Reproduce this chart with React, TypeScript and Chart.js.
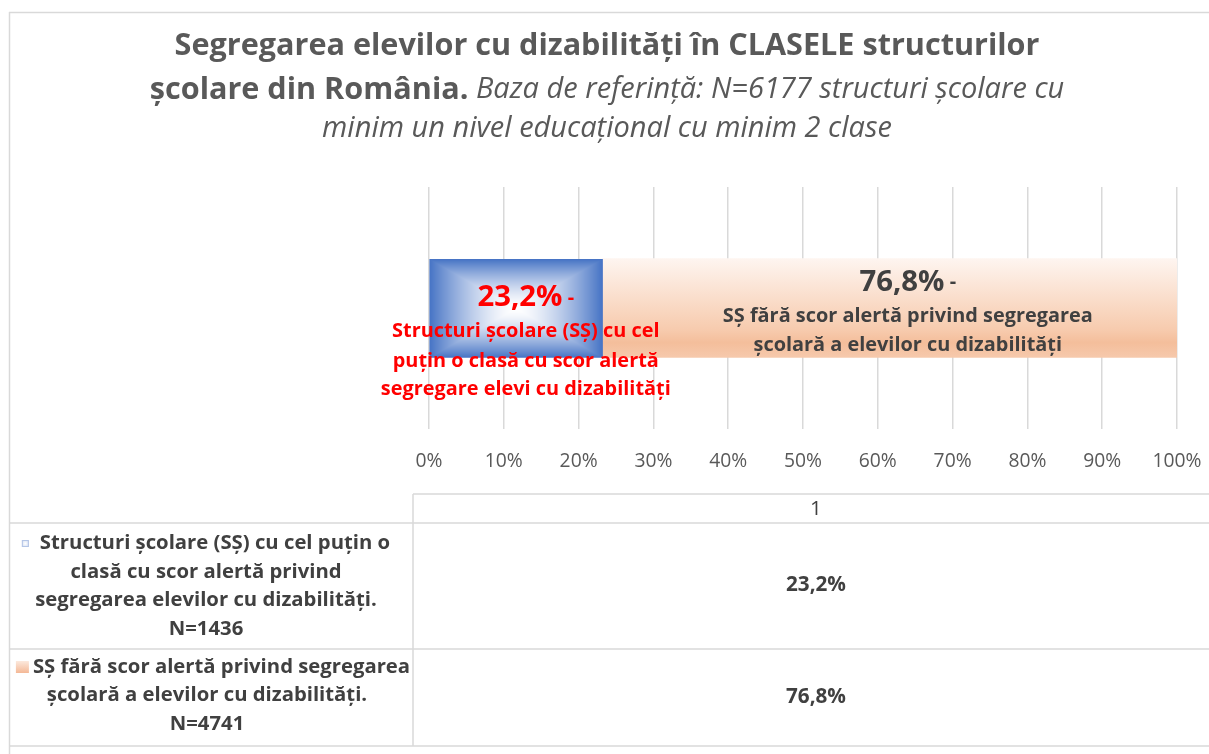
import React, { useEffect, useRef } from 'react';
import { Chart, registerables } from 'chart.js';

Chart.register(...registerables);

// ---------- data ----------
const categories = ['1'];
const seriesNames = [
  'Structuri școlare (SȘ) cu cel puțin o clasă cu scor alertă privind segregarea elevilor cu dizabilități. N=1436',
  'SȘ fără scor alertă privind segregarea școlară a elevilor cu dizabilități. N=4741',
];
const alertShare = [23.2];
const noAlertShare = [76.8];
const axisMin = 0;
const axisMax = 100;
const tickStep = 10;

const titleLine1 = 'Segregarea elevilor cu dizabilități în CLASELE structurilor';
const titleLine2Bold = 'școlare din România.';
const titleLine2Italic = ' Baza de referință: N=6177 structuri școlare cu';
const titleLine3Italic = 'minim un nivel educațional cu minim 2 clase';

const alertLabelLines = ['Structuri școlare (SȘ) cu cel', 'puțin o clasă cu scor alertă', 'segregare elevi cu dizabilități'];
const noAlertLabelLines = ['SȘ fără scor alertă privind segregarea', 'școlară a elevilor cu dizabilități'];
const alertLegendLines = ['Structuri școlare (SȘ) cu cel puțin o', 'clasă cu scor alertă privind', 'segregarea elevilor cu dizabilități.', 'N=1436'];
const noAlertLegendLines = ['SȘ fără scor alertă privind segregarea', 'școlară a elevilor cu dizabilități.', 'N=4741'];

// ---------- styles ----------
const FAMILY = '"Open Sans", Lato, sans-serif';
const GRID = '#D9D9D9';
const TEXT_DARK = '#404040';
const TEXT_MID = '#595959';
const BAR_THICK = 99;

const fmt = (v: number) => v.toFixed(1).replace('.', ',') + '%';

// font size that makes `text` about `target` px wide
let measureCtx: CanvasRenderingContext2D | null = null;
function fitSize(style: string, text: string, target: number) {
  if (!measureCtx) measureCtx = document.createElement('canvas').getContext('2d');
  const c = measureCtx!;
  c.font = `${style} 100px ${FAMILY}`;
  const w = c.measureText(text).width;
  return Math.round((100 * target / w) * 10) / 10;
}

type Run = { text: string; font: string };

function drawRuns(ctx: CanvasRenderingContext2D, runs: Run[], cx: number, cy: number, lead?: { w: number; gap: number; draw: (x: number) => void }) {
  let total = 0;
  const widths = runs.map((r) => {
    ctx.font = r.font;
    const w = ctx.measureText(r.text).width;
    total += w;
    return w;
  });
  if (lead) total += lead.w + lead.gap;
  let x = cx - total / 2;
  if (lead) {
    lead.draw(x);
    x += lead.w + lead.gap;
  }
  ctx.textAlign = 'left';
  ctx.textBaseline = 'middle';
  runs.forEach((r, i) => {
    ctx.font = r.font;
    ctx.fillText(r.text, x, cy);
    x += widths[i];
  });
}

function hline(ctx: CanvasRenderingContext2D, x1: number, x2: number, y: number) {
  ctx.beginPath();
  ctx.moveTo(x1, y);
  ctx.lineTo(x2, y);
  ctx.stroke();
}
function vline(ctx: CanvasRenderingContext2D, x: number, y1: number, y2: number) {
  ctx.beginPath();
  ctx.moveTo(x, y1);
  ctx.lineTo(x, y2);
  ctx.stroke();
}

function rectPathGradient(chart: any, left: number, right: number, top: number, bottom: number) {
  const off = document.createElement('canvas');
  off.width = chart.width;
  off.height = chart.height;
  const octx = off.getContext('2d')!;
  const l = Math.round(left), r = Math.round(right), t = Math.round(top), b = Math.round(bottom);
  const w = Math.max(1, r - l), h = Math.max(1, b - t);
  const img = octx.createImageData(w, h);
  const cx = w / 2, cy = h / 2;
  const edge = [68, 114, 196];
  for (let j = 0; j < h; j++) {
    for (let i = 0; i < w; i++) {
      const dx = Math.abs(i + 0.5 - cx) / cx;
      const dy = Math.abs(j + 0.5 - cy) / cy;
      let f = Math.max(dx, dy);
      f = Math.min(1, Math.pow(f, 1.5));
      const k = (j * w + i) * 4;
      img.data[k] = Math.round(255 + (edge[0] - 255) * f);
      img.data[k + 1] = Math.round(255 + (edge[1] - 255) * f);
      img.data[k + 2] = Math.round(255 + (edge[2] - 255) * f);
      img.data[k + 3] = 255;
    }
  }
  octx.putImageData(img, l, t);
  return chart.ctx.createPattern(off, 'no-repeat');
}

const decorPlugin = {
  id: 'decor',
  afterDraw(chart: any) {
    const ctx: CanvasRenderingContext2D = chart.ctx;
    const xs = chart.scales.x;
    const ys = chart.scales.y;
    ctx.save();

    const titleBold = fitSize('bold', titleLine1, 865);
    const titleItalic = fitSize('italic', titleLine3Italic, 570);
    const pctSize = fitSize('bold', fmt(alertShare[0]), 85);
    const barTextSize = fitSize('bold', noAlertLabelLines[0], 370);
    const legendSize = fitSize('bold', alertLegendLines[0], 351);
    const valSize = fitSize('bold', fmt(alertShare[0]), 60);

    // frame
    ctx.strokeStyle = GRID;
    ctx.lineWidth = 1.5;
    hline(ctx, 9, chart.width, 12.5);
    vline(ctx, 9.5, 12, chart.height);

    // title
    ctx.fillStyle = TEXT_MID;
    drawRuns(ctx, [{ text: titleLine1, font: `bold ${titleBold}px ${FAMILY}` }], 607, 46);
    drawRuns(ctx, [
      { text: titleLine2Bold, font: `bold ${titleBold}px ${FAMILY}` },
      { text: titleLine2Italic, font: `italic ${titleItalic}px ${FAMILY}` },
    ], 607, 90);
    drawRuns(ctx, [{ text: titleLine3Italic, font: `italic ${titleItalic}px ${FAMILY}` }], 607, 129);

    // bar labels
    const yc = ys.getPixelForValue(0);
    const p0 = xs.getPixelForValue(axisMin);
    const p1 = xs.getPixelForValue(alertShare[0]);
    const p2 = xs.getPixelForValue(alertShare[0] + noAlertShare[0]);
    const aC = (p0 + p1) / 2 + 10;
    const bC = (p1 + p2) / 2 + 18;

    ctx.fillStyle = '#FF0000';
    drawRuns(ctx, [
      { text: fmt(alertShare[0]), font: `bold ${pctSize}px ${FAMILY}` },
      { text: ' -', font: `bold ${barTextSize}px ${FAMILY}` },
    ], aC, yc - 10);
    [23.5, 53.5, 81.5].forEach((dy, i) => {
      drawRuns(ctx, [{ text: alertLabelLines[i], font: `bold ${barTextSize}px ${FAMILY}` }], aC, yc + dy);
    });

    ctx.fillStyle = TEXT_DARK;
    drawRuns(ctx, [
      { text: fmt(noAlertShare[0]), font: `bold ${pctSize}px ${FAMILY}` },
      { text: ' -', font: `bold ${barTextSize}px ${FAMILY}` },
    ], bC, yc - 25.5);
    [8.5, 37.5].forEach((dy, i) => {
      drawRuns(ctx, [{ text: noAlertLabelLines[i], font: `bold ${barTextSize}px ${FAMILY}` }], bC, yc + dy);
    });

    // data table
    ctx.strokeStyle = GRID;
    ctx.lineWidth = 1.5;
    hline(ctx, 10, chart.width, 523);
    hline(ctx, 10, chart.width, 649);
    hline(ctx, 10, chart.width, 746);
    hline(ctx, 413, chart.width, 494);
    vline(ctx, 413, 494, 746);

    const valX = 816;
    ctx.fillStyle = TEXT_DARK;
    drawRuns(ctx, [{ text: categories[0], font: `${valSize}px ${FAMILY}` }], valX, 509);
    drawRuns(ctx, [{ text: fmt(alertShare[0]), font: `bold ${valSize}px ${FAMILY}` }], valX, 585);
    drawRuns(ctx, [{ text: fmt(noAlertShare[0]), font: `bold ${valSize}px ${FAMILY}` }], valX, 697);

    const legendFont = `bold ${legendSize}px ${FAMILY}`;
    // row 1
    [543, 572, 600.5, 629].forEach((yy, i) => {
      const lead = i === 0 ? {
        w: 7, gap: 11, draw: (x: number) => {
          ctx.save();
          const g = ctx.createRadialGradient(x + 3.5, yy + 0.5, 0, x + 3.5, yy + 0.5, 5);
          g.addColorStop(0, '#ffffff');
          g.addColorStop(1, '#C9D6EF');
          ctx.fillStyle = g;
          ctx.fillRect(x, yy - 3, 7, 7);
          ctx.strokeStyle = '#B4C5E6';
          ctx.lineWidth = 1;
          ctx.strokeRect(x + 0.5, yy - 2.5, 6, 6);
          ctx.restore();
        },
      } : undefined;
      ctx.fillStyle = TEXT_DARK;
      drawRuns(ctx, [{ text: alertLegendLines[i], font: legendFont }], 206, yy, lead);
    });
    // row 2
    [667, 695.5, 724].forEach((yy, i) => {
      const lead = i === 0 ? {
        w: 13, gap: 4, draw: (x: number) => {
          ctx.save();
          const g = ctx.createLinearGradient(0, yy - 6, 0, yy + 6);
          g.addColorStop(0, '#FCE9DD');
          g.addColorStop(1, '#F4B896');
          ctx.fillStyle = g;
          ctx.fillRect(x, yy - 6, 13, 12);
          ctx.restore();
        },
      } : undefined;
      ctx.fillStyle = TEXT_DARK;
      drawRuns(ctx, [{ text: noAlertLegendLines[i], font: legendFont }], i === 0 ? 213 : 207, yy, lead);
    });

    ctx.restore();
  },
};

export default function App() {
  const ref = useRef<HTMLCanvasElement>(null);
  useEffect(() => {
    let chart: Chart | null = null;
    let cancelled = false;
    const make = () => {
      if (cancelled || !ref.current) return;
      const tickSize = fitSize('normal', '100%', 49);
      chart = new Chart(ref.current, {
        type: 'bar',
        data: {
          labels: categories,
          datasets: [
            {
              label: seriesNames[0],
              data: alertShare,
              barThickness: BAR_THICK,
              borderWidth: 0,
              backgroundColor: (c: any) => {
                const ch = c.chart;
                const xs = ch.scales?.x;
                const ys = ch.scales?.y;
                if (!xs || !ys || !ch.chartArea) return '#4472C4';
                const yc = ys.getPixelForValue(0);
                return rectPathGradient(ch, xs.getPixelForValue(axisMin), xs.getPixelForValue(alertShare[0]), yc - BAR_THICK / 2, yc + BAR_THICK / 2);
              },
            },
            {
              label: seriesNames[1],
              data: noAlertShare,
              barThickness: BAR_THICK,
              borderWidth: 0,
              backgroundColor: (c: any) => {
                const ch = c.chart;
                const ys = ch.scales?.y;
                if (!ys || !ch.chartArea) return '#F4B183';
                const yc = ys.getPixelForValue(0);
                const g = ch.ctx.createLinearGradient(0, yc - BAR_THICK / 2, 0, yc + BAR_THICK / 2);
                g.addColorStop(0, '#FEF5F0');
                g.addColorStop(0.72, '#F7CBAE');
                g.addColorStop(0.85, '#F4BE9B');
                g.addColorStop(1, '#F6C9AC');
                return g;
              },
            },
          ],
        },
        options: {
          indexAxis: 'y',
          responsive: false,
          animation: false,
          events: [],
          layout: { padding: { top: 187, left: 429, right: 32, bottom: 754 - 429 - 60 } },
          plugins: {
            legend: { display: false },
            tooltip: { enabled: false },
            title: { display: false },
          },
          scales: {
            x: {
              stacked: true,
              min: axisMin,
              max: axisMax,
              border: { display: false },
              grid: { color: GRID, lineWidth: 1.5, drawTicks: false },
              ticks: {
                stepSize: tickStep,
                padding: 21,
                color: TEXT_MID,
                font: { family: FAMILY, size: tickSize },
                callback: (v: any) => `${v}%`,
              },
              afterFit: (s: any) => {
                s.height = 60;
                s.paddingLeft = 0;
                s.paddingRight = 0;
              },
            },
            y: {
              stacked: true,
              display: false,
            },
          },
        },
        plugins: [decorPlugin],
      } as any);
    };
    const fonts = (document as any).fonts;
    if (fonts && fonts.load) {
      Promise.all([
        fonts.load(`bold 20px "Open Sans"`),
        fonts.load(`italic 20px "Open Sans"`),
        fonts.load(`20px "Open Sans"`),
      ]).then(make, make);
    } else {
      make();
    }
    return () => {
      cancelled = true;
      if (chart) chart.destroy();
    };
  }, []);
  return (
    <div style={{ position: 'absolute', left: 0, top: 0, width: 1209, height: 754, background: '#fff' }}>
      <canvas ref={ref} width={1209} height={754} style={{ display: 'block' }} />
    </div>
  );
}
